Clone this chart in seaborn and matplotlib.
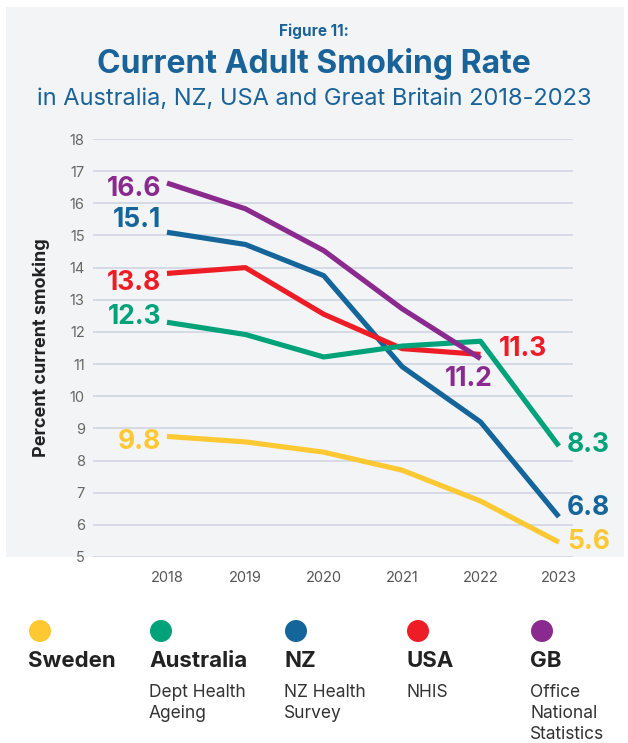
import matplotlib
matplotlib.use("Agg")
import matplotlib.pyplot as plt
from matplotlib.patches import Rectangle, Ellipse
import numpy as np
import pandas as pd
import seaborn as sns

# data
years = [2018, 2019, 2020, 2021, 2022, 2023]
sweden = [8.75, 8.58, 8.26, 7.70, 6.74, 5.46]
australia = [12.30, 11.92, 11.22, 11.56, 11.71, 8.45]
nz = [15.10, 14.72, 13.75, 10.92, 9.20, 6.25]
usa = [13.82, 14.00, 12.55, 11.48, 11.30]
gb = [16.63, 15.83, 14.53, 12.72, 11.17]

countries = ["Sweden", "Australia", "NZ", "USA", "GB"]
sources = ["", "Dept Health\nAgeing", "NZ Health\nSurvey", "NHIS", "Office\nNational\nStatistics"]
colors = {"Sweden": "#fec832", "Australia": "#00a27a", "NZ": "#14659a",
          "USA": "#ee1c25", "GB": "#8b2a8e"}

# labels printed on the chart (start / end values as shown)
start_labels = {"GB": "16.6", "NZ": "15.1", "USA": "13.8", "Australia": "12.3", "Sweden": "9.8"}
end_labels = {"USA": "11.3", "GB": "11.2", "Australia": "8.3", "NZ": "6.8", "Sweden": "5.6"}

series = {"Sweden": sweden, "Australia": australia, "NZ": nz, "USA": usa, "GB": gb}
rows = []
for name, vals in series.items():
    for yr, v in zip(years, vals):
        rows.append({"year": yr, "rate": v, "country": name})
df = pd.DataFrame(rows)

sns.set_style("white")
plt.rcParams['font.family'] = ['Inter', 'DejaVu Sans']

W, H = 628, 743
fig = plt.figure(figsize=(W / 100, H / 100), dpi=100)
fig.patch.set_facecolor("white")

# grey panel behind title + plot
fig.add_artist(Rectangle((6 / W, 1 - 557 / H), 618 / W, 550 / H,
                         transform=fig.transFigure, facecolor="#f2f4f6",
                         edgecolor="none", zorder=0))

blue = "#1a6399"
fig.text(0.5, 1 - 31 / H, "Figure 11:", ha="center", va="center",
         fontsize=11, fontweight="bold", color=blue)
fig.text(0.5, 1 - 64 / H, "Current Adult Smoking Rate", ha="center", va="center",
         fontsize=23, fontweight="bold", color=blue)
fig.text(0.5, 1 - 99 / H, "in Australia, NZ, USA and Great Britain 2018-2023",
         ha="center", va="center", fontsize=17, color=blue)

ax = fig.add_axes([93 / W, 1 - 557 / H, 480 / W, 418 / H])
ax.set_facecolor("none")

sns.lineplot(data=df, x="year", y="rate", hue="country",
             hue_order=["Sweden", "NZ", "USA", "Australia", "GB"],
             palette=colors, linewidth=3.7, legend=False, ax=ax,
             solid_capstyle="butt")

ax.set_xlim(2017.056, 2023.18)
ax.set_ylim(5, 18)
ax.set_yticks(range(5, 19))
ax.set_xticks(years)
ax.grid(axis="y", color="#cdd3e2", linewidth=1.1)
ax.grid(axis="x", visible=False)
for s in ax.spines.values():
    s.set_visible(False)
ax.tick_params(axis="y", length=0, pad=6, labelsize=10.5, labelcolor="#666666")
ax.tick_params(axis="x", direction="in", length=7, width=1, color="#cdd3e2",
               pad=10, labelsize=10.5, labelcolor="#555555")
ax.set_xlabel("")
ax.set_ylabel("Percent current smoking", fontsize=13, fontweight="bold",
              color="#222222", labelpad=14)

# value labels
num_size = 19
start_off = {"GB": -4, "NZ": 9, "USA": -7, "Australia": 4, "Sweden": -4}
for name, txt in start_labels.items():
    ax.annotate(txt, xy=(years[0], series[name][0]), xytext=(-4, start_off[name]),
                textcoords="offset points", ha="right", va="center",
                fontsize=num_size, fontweight="bold", color=colors[name])

end_off = {"USA": (13, 4), "GB": (-26, -15), "Australia": (6, 1), "NZ": (6, 6), "Sweden": (6, 0)}
for name, txt in end_labels.items():
    vals = series[name]
    ax.annotate(txt, xy=(years[len(vals) - 1], vals[-1]), xytext=end_off[name],
                textcoords="offset points", ha="left", va="center",
                fontsize=num_size, fontweight="bold", color=colors[name])

# legend at the bottom
dot_x = [40, 161, 296, 418, 542]
for i, name in enumerate(countries):
    fig.add_artist(Ellipse((dot_x[i] / W, 1 - 631 / H), 22 / W, 22 / H,
                           transform=fig.transFigure, facecolor=colors[name],
                           edgecolor="none"))
    fig.text((dot_x[i] - 12) / W, 1 - 661 / H, name, ha="left", va="center",
             fontsize=16, fontweight="bold", color="#222222")
    if sources[i]:
        fig.text((dot_x[i] - 12) / W, 1 - 684 / H, sources[i], ha="left", va="top",
                 fontsize=12.5, color="#333333", linespacing=1.3)

fig.savefig("out.png", dpi=100)
